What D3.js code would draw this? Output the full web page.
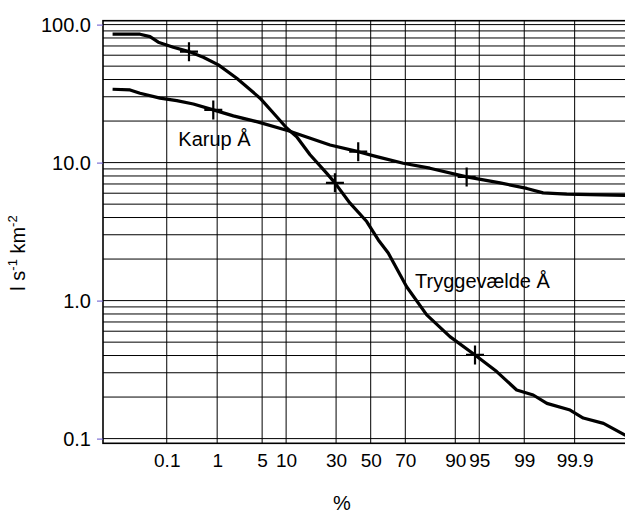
<!DOCTYPE html>
<html>
<head>
<meta charset="utf-8">
<script src="https://cdn.jsdelivr.net/npm/d3@7"></script>
<style>
    body { margin: 0; background: #fff; }
    text { font-family: "Liberation Sans", Arial, sans-serif; }
</style>
</head>
<body>
<div id="chart"></div>
<script>
"use strict";

// exceedance percentages and specific runoff (l s-1 km-2)
const trygge_p = [0.0046, 0.0237, 0.0413, 0.0645, 0.139, 0.295, 0.56, 1.05, 2.12, 4.68,
    7.72, 10.15, 13.1, 17.9, 25.2, 29.4, 37.7, 47.6, 54.6, 60.5, 70.7, 80.2, 88.5,
    94.3, 97.19, 98.65, 99.31, 99.62, 99.874, 99.936, 99.979, 99.9942, 99.9977];
const trygge_q = [85.2, 85.2, 81.8, 74.6, 68.6, 63.7, 58.0, 51.1, 40.9, 29.3,
    21.5, 17.8, 15.4, 11.4, 8.38, 7.13, 5.08, 3.74, 2.75, 2.21, 1.26, 0.788, 0.548,
    0.404, 0.306, 0.225, 0.207, 0.180, 0.161, 0.141, 0.129, 0.106, 0.096];

const karup_p = [0.0046, 0.0133, 0.0237, 0.0706, 0.165, 0.360, 0.854, 1.87, 4.21, 10.6,
    14.2, 26.9, 42.5, 53.6, 68.9, 81.5, 92.7, 97.5, 99.10, 99.55, 99.851, 99.9942, 99.9977];
const karup_q = [34.0, 33.6, 31.8, 29.3, 28.1, 26.6, 24.1, 21.8, 19.8, 17.0,
    15.9, 13.4, 12.0, 11.05, 9.90, 9.11, 7.88, 7.13, 6.50, 6.03, 5.90, 5.78, 5.78];

// cross markers on each curve
const trygge_marks_p = [0.295, 29.4, 94.3];
const trygge_marks_q = [63.7, 7.13, 0.404];
const karup_marks_p = [0.854, 42.5, 92.7];
const karup_marks_q = [24.1, 12.0, 7.88];

const x_ticks = [0.1, 1, 5, 10, 30, 50, 70, 90, 95, 99, 99.9];
const y_ticks = [0.1, 1, 10, 100];

const labels = [
    { text: "Karup Å", p: 0.178, q: 13.3 },
    { text: "Tryggevælde Å", p: 74.9, q: 1.23 },
];

const WIDTH = 625;
const HEIGHT = 516;
const LEFT = 103;
const TOP = 20.7;
const BOTTOM = 443.3;
const Z_MIN = -4.056;
const Z_MAX = 4.056;


// inverse of the standard normal distribution (Acklam)
function probit(p) {
    const a = [-3.969683028665376e+01, 2.209460984245205e+02, -2.759285104469687e+02,
        1.383577518672690e+02, -3.066479806614716e+01, 2.506628277459239e+00];
    const b = [-5.447609879822406e+01, 1.615858368580409e+02, -1.556989798598866e+02,
        6.680131188771972e+01, -1.328068155288572e+01];
    const c = [-7.784894002430293e-03, -3.223964580411365e-01, -2.400758277161838e+00,
        -2.549732539343734e+00, 4.374664141464968e+00, 2.938163982698783e+00];
    const d = [7.784695709041462e-03, 3.224671290700398e-01, 2.445134137142996e+00,
        3.754408661907416e+00];
    const plow = 0.02425;
    let q, r;
    if (p < plow) {
        q = Math.sqrt(-2 * Math.log(p));
        return (((((c[0] * q + c[1]) * q + c[2]) * q + c[3]) * q + c[4]) * q + c[5]) /
            ((((d[0] * q + d[1]) * q + d[2]) * q + d[3]) * q + 1);
    }
    if (p > 1 - plow) {
        q = Math.sqrt(-2 * Math.log(1 - p));
        return -(((((c[0] * q + c[1]) * q + c[2]) * q + c[3]) * q + c[4]) * q + c[5]) /
            ((((d[0] * q + d[1]) * q + d[2]) * q + d[3]) * q + 1);
    }
    q = p - 0.5;
    r = q * q;
    return (((((a[0] * r + a[1]) * r + a[2]) * r + a[3]) * r + a[4]) * r + a[5]) * q /
        (((((b[0] * r + b[1]) * r + b[2]) * r + b[3]) * r + b[4]) * r + 1);
}

let zscale = d3.scaleLinear()
    .domain([Z_MIN, Z_MAX])
    .range([LEFT, LEFT + 66 * (Z_MAX - Z_MIN)]);

const xscale = p => zscale(probit(p / 100));

let yscale = d3.scaleLog()
    .domain([0.1, 100])
    .range([438.6, 24.6]);

const RIGHT = zscale.range()[1];

let svg = d3.select("#chart").append("svg")
    .attr("width", WIDTH)
    .attr("height", HEIGHT);

// horizontal grid: 1..9 in every decade
let hgrid = [];
for (let dec of [0.1, 1, 10]) {
    for (let k = 1; k < 10; k++) hgrid.push(+(k * dec).toPrecision(3));
}
hgrid.push(100);

svg.append("g")
    .selectAll("line")
    .data(hgrid)
    .join("line")
    .attr("x1", LEFT)
    .attr("x2", RIGHT)
    .attr("y1", d => yscale(d))
    .attr("y2", d => yscale(d))
    .attr("stroke", "#000")
    .attr("stroke-width", 1);

svg.append("g")
    .selectAll("line")
    .data(x_ticks)
    .join("line")
    .attr("x1", d => xscale(d))
    .attr("x2", d => xscale(d))
    .attr("y1", TOP)
    .attr("y2", BOTTOM)
    .attr("stroke", "#000")
    .attr("stroke-width", 1);

// frame
svg.append("rect")
    .attr("x", LEFT)
    .attr("y", TOP)
    .attr("width", RIGHT - LEFT)
    .attr("height", BOTTOM - TOP)
    .attr("fill", "none")
    .attr("stroke", "#000")
    .attr("stroke-width", 1.6);

// axes
let yaxis = svg.append("g")
    .attr("transform", `translate(${LEFT},0)`)
    .call(d3.axisLeft(yscale)
        .tickValues(y_ticks)
        .tickFormat(d3.format(".1f"))
        .tickSize(6)
        .tickPadding(6));
yaxis.select(".domain").remove();
yaxis.selectAll(".tick line").attr("stroke", "#6655cc");
yaxis.selectAll("text")
    .attr("font-size", 20)
    .attr("font-family", "Liberation Sans, Arial, sans-serif")
    .attr("fill", "#000");

let xaxis = svg.append("g")
    .attr("transform", `translate(0,${BOTTOM})`)
    .call(d3.axisBottom(zscale)
        .tickValues(x_ticks.map(p => probit(p / 100)))
        .tickFormat((d, i) => String(x_ticks[i]))
        .tickSize(0)
        .tickPadding(10));
xaxis.select(".domain").remove();
xaxis.selectAll("text")
    .attr("font-size", 19)
    .attr("font-family", "Liberation Sans, Arial, sans-serif")
    .attr("fill", "#000");

// axis titles
let ytitle = svg.append("text")
    .attr("transform", "translate(24.5,253) rotate(-90)")
    .attr("text-anchor", "middle")
    .attr("font-size", 20);
ytitle.append("tspan").text("l s");
ytitle.append("tspan").attr("font-size", 13).attr("dy", -8).text("-1");
ytitle.append("tspan").attr("dy", 8).text(" km");
ytitle.append("tspan").attr("font-size", 13).attr("dy", -8).text("-2");

svg.append("text")
    .attr("x", 342)
    .attr("y", 510)
    .attr("text-anchor", "middle")
    .attr("font-size", 20)
    .text("%");

// curves
let line = d3.line()
    .x(d => xscale(d.p))
    .y(d => yscale(d.q));

const series = [
    { p: trygge_p, q: trygge_q, mp: trygge_marks_p, mq: trygge_marks_q },
    { p: karup_p, q: karup_q, mp: karup_marks_p, mq: karup_marks_q },
];

for (let s of series) {
    const pts = s.p.map((p, i) => ({ p: p, q: s.q[i] }));
    svg.append("path")
        .datum(pts)
        .attr("d", line)
        .attr("fill", "none")
        .attr("stroke", "#000")
        .attr("stroke-width", 3.2)
        .attr("stroke-linejoin", "round");

    svg.append("g")
        .selectAll("path")
        .data(s.mp.map((p, i) => ({ p: p, q: s.mq[i] })))
        .join("path")
        .attr("transform", d => `translate(${xscale(d.p)},${yscale(d.q)})`)
        .attr("d", "M-9,0H9M0,-9.5V9.5")
        .attr("stroke", "#000")
        .attr("stroke-width", 2.2);
}

// curve labels
svg.append("g")
    .selectAll("text")
    .data(labels)
    .join("text")
    .attr("x", d => xscale(d.p))
    .attr("y", d => yscale(d.q))
    .attr("font-size", 20)
    .text(d => d.text);
</script>
</body>
</html>
